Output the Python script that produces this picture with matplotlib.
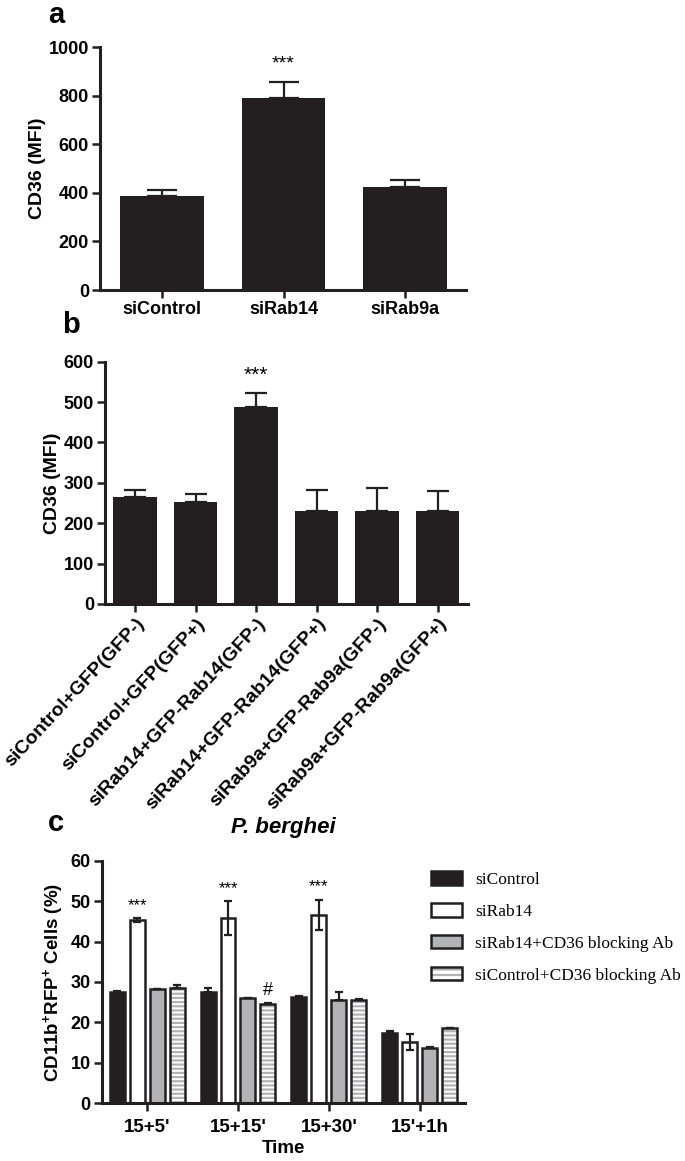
import numpy as np
import matplotlib
matplotlib.use('Agg')
import matplotlib.pyplot as plt
from matplotlib.patches import Patch
from matplotlib.legend_handler import HandlerTuple

plt.rcParams['font.family'] = ['Liberation Sans', 'DejaVu Sans']
plt.rcParams['font.weight'] = 'bold'
plt.rcParams['axes.labelweight'] = 'bold'
plt.rcParams['mathtext.fontset'] = 'custom'
plt.rcParams['mathtext.rm'] = 'Liberation Sans:bold'
plt.rcParams['mathtext.bf'] = 'Liberation Sans:bold'
plt.rcParams['hatch.linewidth'] = 1.6

# panel a
a_groups = ['siControl', 'siRab14', 'siRab9a']
a_mean = [386, 790, 424]
a_err = [26, 66, 27]

# panel b
b_groups = ['siControl+GFP(GFP-)', 'siControl+GFP(GFP+)', 'siRab14+GFP-Rab14(GFP-)',
            'siRab14+GFP-Rab14(GFP+)', 'siRab9a+GFP-Rab9a(GFP-)', 'siRab9a+GFP-Rab9a(GFP+)']
b_mean = [264, 253, 488, 229, 231, 231]
b_err = [17, 20, 34, 54, 55, 49]

# panel c
c_times = ["15+5'", "15+15'", "15+30'", "15'+1h"]
c_series = ['siControl', 'siRab14', 'siRab14+CD36 blocking Ab', 'siControl+CD36 blocking Ab']
c_mean = {
    'siControl': [27.4, 27.4, 26.4, 17.3],
    'siRab14': [45.3, 45.8, 46.6, 15.2],
    'siRab14+CD36 blocking Ab': [28.3, 26.0, 25.5, 13.7],
    'siControl+CD36 blocking Ab': [28.5, 24.5, 25.5, 18.7],
}
c_err = {
    'siControl': [0.4, 1.1, 0.2, 0.6],
    'siRab14': [0.5, 4.2, 3.7, 1.9],
    'siRab14+CD36 blocking Ab': [0.0, 0.0, 2.1, 0.1],
    'siControl+CD36 blocking Ab': [0.8, 0.3, 0.2, 0.0],
}
c_stars = ['***', '***', '***', '']
c_hash = ['', '#', '', '']

DARK = '#231f20'
GREY = '#b2b3b6'

fig = plt.figure(figsize=(6.85, 11.61), dpi=100)


def style(ax, tick_fs):
    for s in ['top', 'right']:
        ax.spines[s].set_visible(False)
    for s in ['left', 'bottom']:
        ax.spines[s].set_linewidth(2.2)
        ax.spines[s].set_color(DARK)
    ax.tick_params(direction='out', length=6, width=1.8, color=DARK, labelsize=tick_fs, pad=2)


# ---- a ----
ax1 = fig.add_axes([0.146, 0.7502, 0.534, 0.2093])
xa = np.arange(len(a_groups))
ax1.bar(xa, a_mean, width=0.69, color=DARK, zorder=2)
ax1.errorbar(xa, a_mean, yerr=[np.zeros(len(a_err)), a_err], fmt='none',
             ecolor=DARK, elinewidth=1.6, capsize=11, capthick=1.6, zorder=1)
ax1.text(xa[1], a_mean[1] + a_err[1] + 40, '***', ha='center', va='bottom',
         fontsize=14, fontweight='normal')
ax1.set_xlim(-0.51, 2.5)
ax1.set_ylim(0, 1000)
ax1.set_yticks([0, 200, 400, 600, 800, 1000])
ax1.set_xticks(xa)
ax1.set_xticklabels(a_groups)
ax1.set_ylabel('CD36 (MFI)', fontsize=14, labelpad=2)
style(ax1, 13)

# ---- b ----
ax2 = fig.add_axes([0.1533, 0.4798, 0.5297, 0.2087])
xb = np.arange(len(b_groups))
ax2.bar(xb, b_mean, width=0.72, color=DARK, zorder=2)
ax2.errorbar(xb, b_mean, yerr=[np.zeros(len(b_err)), b_err], fmt='none',
             ecolor=DARK, elinewidth=1.6, capsize=8, capthick=1.6, zorder=1)
ax2.text(xb[2], b_mean[2] + b_err[2] + 20, '***', ha='center', va='bottom',
         fontsize=15, fontweight='normal')
ax2.set_xlim(-0.5, 5.5)
ax2.set_ylim(0, 600)
ax2.set_yticks(np.arange(0, 601, 100))
ax2.set_xticks(xb)
ax2.set_xticklabels(b_groups, rotation=47, ha='right', rotation_mode='anchor')
ax2.set_ylabel('CD36 (MFI)', fontsize=14, labelpad=2)
style(ax2, 13)
ax2.tick_params(axis='x', labelsize=14)

# ---- c ----
ax3 = fig.add_axes([0.1485, 0.0497, 0.5305, 0.209])
xc = np.arange(len(c_times))
offs = [-0.33, -0.11, 0.11, 0.33]
w = 0.165
fills = [DARK, 'white', GREY, None]
for i, name in enumerate(c_series):
    m = np.array(c_mean[name])
    e = np.array(c_err[name])
    pos = xc + offs[i]
    if fills[i] is None:
        ax3.bar(pos, m, width=w, color='white', edgecolor=GREY, hatch='----', lw=0, zorder=2)
        ax3.bar(pos, m, width=w, fill=False, edgecolor=DARK, lw=1.8, zorder=3)
        low = np.zeros(len(e))
    else:
        ax3.bar(pos, m, width=w, color=fills[i], edgecolor=DARK, lw=1.8, zorder=2)
        low = e if fills[i] == 'white' else np.zeros(len(e))
    ax3.errorbar(pos, m, yerr=[low, e], fmt='none', ecolor=DARK,
                 elinewidth=1.6, capsize=3, capthick=1.6, zorder=4)
    if name == 'siRab14':
        for k in range(len(xc)):
            if c_stars[k]:
                ax3.text(pos[k], m[k] + e[k] + 1.3, c_stars[k], ha='center', va='bottom',
                         fontsize=12, fontweight='normal')
    if name == 'siControl+CD36 blocking Ab':
        for k in range(len(xc)):
            if c_hash[k]:
                ax3.text(pos[k], m[k] + e[k] + 1.0, c_hash[k], ha='center', va='bottom',
                         fontsize=13, fontweight='normal')

ax3.set_xlim(-0.5, 3.5)
ax3.set_ylim(0, 60)
ax3.set_yticks(np.arange(0, 61, 10))
ax3.set_xticks(xc)
ax3.set_xticklabels(c_times)
ax3.set_xlabel('Time', fontsize=13.5, labelpad=3)
ax3.set_ylabel('CD11b$^{+}$RFP$^{+}$ Cells (%)', fontsize=13.5, labelpad=3)
ax3.set_title('P. berghei', fontsize=16, fontweight='bold', style='italic', pad=20)
style(ax3, 13)
ax3.tick_params(axis='x', labelsize=13.5, pad=5)

handles = [
    Patch(facecolor=DARK, edgecolor=DARK, lw=1.8),
    Patch(facecolor='white', edgecolor=DARK, lw=1.8),
    Patch(facecolor=GREY, edgecolor=DARK, lw=1.8),
    (Patch(facecolor='white', edgecolor=GREY, hatch='---', lw=0),
     Patch(fill=False, edgecolor=DARK, lw=1.8)),
]
fig.legend(handles, c_series, handler_map={tuple: HandlerTuple(ndivide=1)},
           loc='upper left', bbox_to_anchor=(0.607, 0.263), frameon=False,
           prop={'family': 'Liberation Serif', 'size': 12.5, 'weight': 'normal'},
           handlelength=1.75, handleheight=0.8, handletextpad=0.75, labelspacing=0.88)

# panel letters
fig.text(0.070, 1 - 1 / 1161, 'a', fontsize=21, fontweight='bold', va='top')
fig.text(0.090, 1 - 325 / 1161, 'b', fontsize=21, fontweight='bold', va='center')
fig.text(0.070, 1 - 823 / 1161, 'c', fontsize=21, fontweight='bold', va='center')

fig.savefig('out.png', dpi=100)
